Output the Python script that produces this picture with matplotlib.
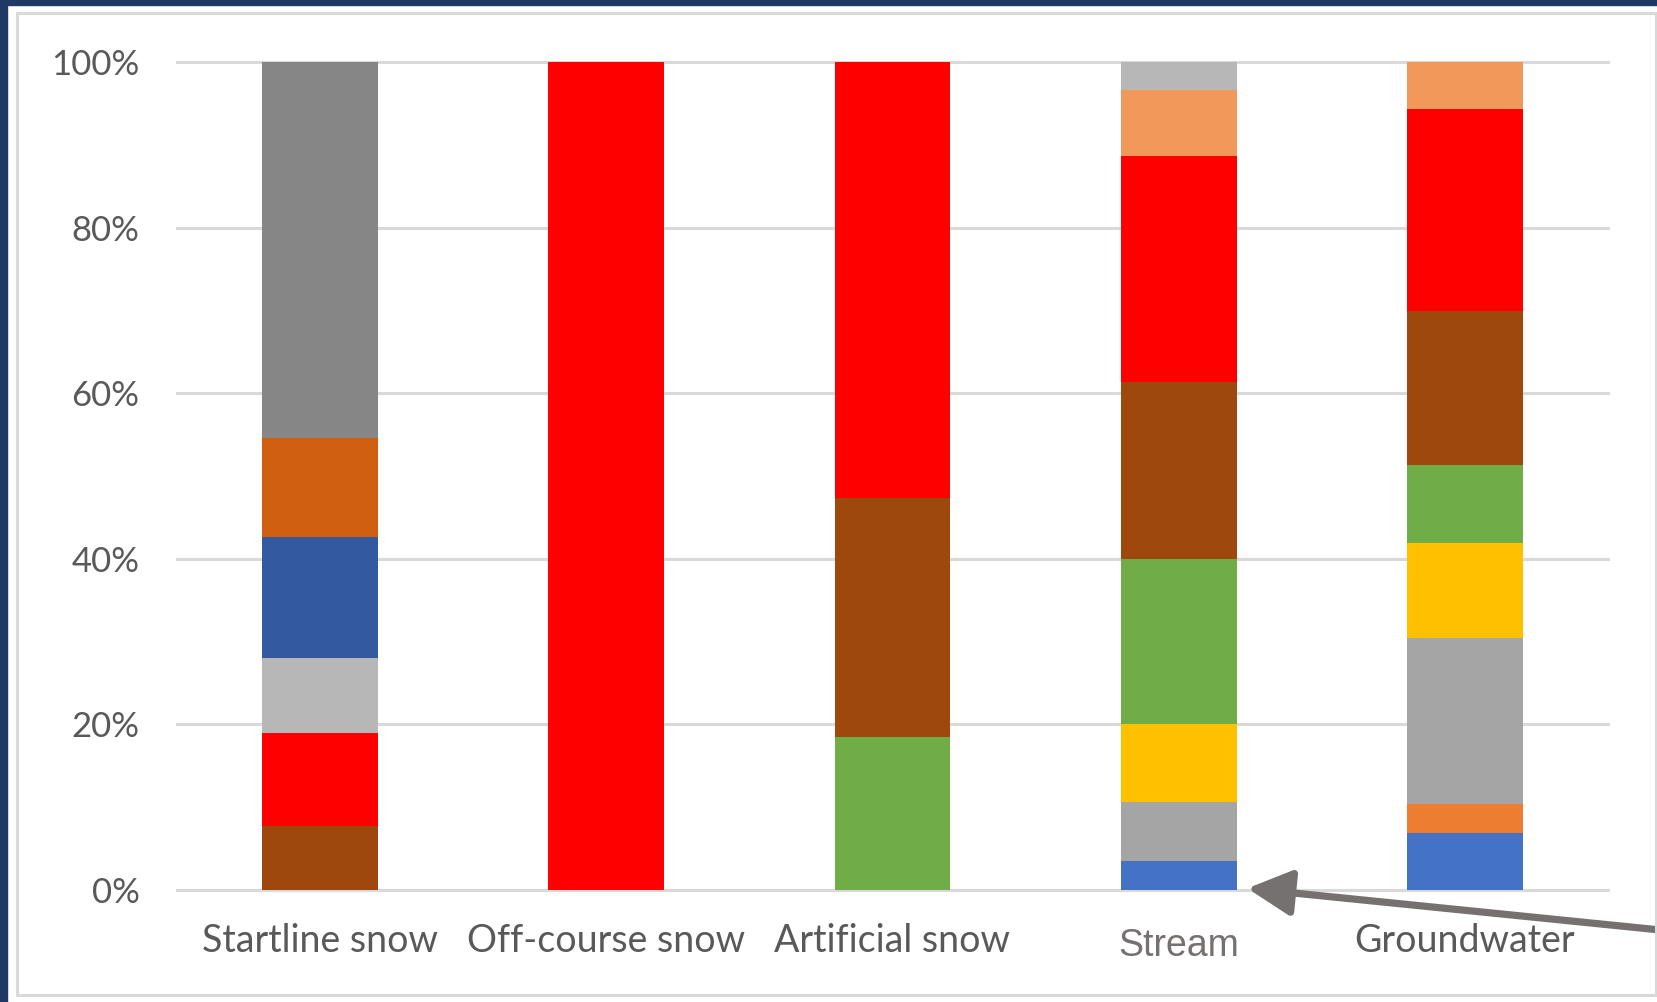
import matplotlib.pyplot as plt
import numpy as np
from matplotlib.patches import Rectangle
from matplotlib.transforms import ScaledTranslation

# stacked shares (%) from bottom to top, one list per sample type
categories = ["Startline snow", "Off-course snow", "Artificial snow", "Stream", "Groundwater"]

startline_values = [7.7, 11.3, 9.0, 14.6, 12.0, 45.4]
offcourse_values = [100.0]
artificial_values = [18.5, 28.8, 52.7]
stream_values = [3.5, 7.1, 9.4, 20.0, 21.4, 27.3, 8.0, 3.3]
groundwater_values = [6.9, 3.5, 20.0, 11.5, 9.5, 18.5, 24.5, 5.6]

startline_colors = ["#9e480e", "#ff0000", "#b7b7b7", "#335aa0", "#d06010", "#868686"]
offcourse_colors = ["#ff0000"]
artificial_colors = ["#70ad47", "#9e480e", "#ff0000"]
stream_colors = ["#4472c4", "#a5a5a5", "#ffc000", "#70ad47", "#9e480e", "#ff0000", "#f1995b", "#b7b7b7"]
groundwater_colors = ["#4472c4", "#ed7d31", "#a5a5a5", "#ffc000", "#70ad47", "#9e480e", "#ff0000", "#f1995b"]

y_ticks = [0, 20, 40, 60, 80, 100]
y_tick_labels = ["0%", "20%", "40%", "60%", "80%", "100%"]

W, H = 1658, 1002
fig = plt.figure(figsize=(W / 100, H / 100), dpi=100)
fig.patch.set_facecolor("white")

# dark frame on left/top, light grey chart border
navy = "#1f3864"
fig.patches.append(Rectangle((0, 0), 7 / W, 1, transform=fig.transFigure, color=navy, zorder=0))
fig.patches.append(Rectangle((0, 1 - 5 / H), 1, 5 / H, transform=fig.transFigure, color=navy, zorder=0))
fig.patches.append(Rectangle((17 / W, 1 - 995 / H), (1656 - 17) / W, (995 - 13) / H,
                             transform=fig.transFigure, fill=False, edgecolor="#d9d9d9",
                             linewidth=2.2, zorder=0))

ax = fig.add_axes([177 / W, (H - 890) / H, (1608 - 177) / W, (890 - 62.3) / H])

all_values = [startline_values, offcourse_values, artificial_values, stream_values, groundwater_values]
all_colors = [startline_colors, offcourse_colors, artificial_colors, stream_colors, groundwater_colors]

x = np.arange(len(categories))
for xi, vals, cols in zip(x, all_values, all_colors):
    bottom = 0.0
    for v, c in zip(vals, cols):
        ax.bar(xi, v, bottom=bottom, width=0.405, color=c, linewidth=0, zorder=3)
        bottom += v

ax.set_xlim(-0.5, len(categories) - 0.5)
ax.set_ylim(0, 100)
ax.set_yticks(y_ticks)
ax.set_yticklabels(y_tick_labels, fontsize=25, color="#595959", family="Lato")
ax.set_xticks(x)
ax.set_xticklabels(categories, fontsize=27, color="#595959", family="Lato")

for y in y_ticks:
    ax.axhline(y, color="#d9d9d9", linewidth=2.2, zorder=1, clip_on=False)

ax.tick_params(axis="both", length=0)
ax.tick_params(axis="y", pad=27)
ax.tick_params(axis="x", pad=24)
for s in ax.spines.values():
    s.set_visible(False)

# the Stream label is set in a different font, slightly lower
stream_label = ax.get_xticklabels()[3]
stream_label.set_family("Liberation Sans")
stream_label.set_fontsize(27)
stream_label.set_color("#767171")
stream_label.set_transform(stream_label.get_transform()
                           + ScaledTranslation(0, -3 / 72, fig.dpi_scale_trans))

# arrow pointing at the base of the Stream bar
ax.annotate("", xy=(3.24, 0.2), xycoords="data",
            xytext=(1700, H - 934), textcoords="figure pixels",
            annotation_clip=False,
            arrowprops=dict(arrowstyle="-|>,head_length=1.35,head_width=0.7",
                            mutation_scale=20, color="#767171", linewidth=5.2,
                            shrinkA=0, shrinkB=0))

fig.savefig("out.png", dpi=100)
